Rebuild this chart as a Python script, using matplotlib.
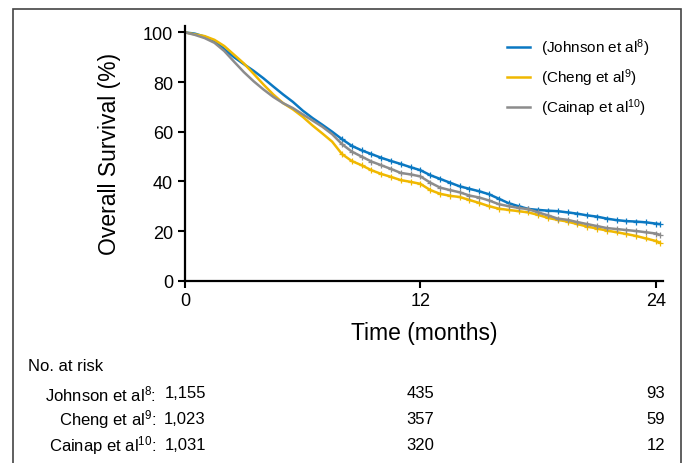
import matplotlib
matplotlib.use("Agg")
import matplotlib.pyplot as plt
import matplotlib.transforms as mtransforms
from matplotlib.patches import Rectangle

plt.rcParams['font.family'] = ['Liberation Sans', 'DejaVu Sans']
plt.rcParams['mathtext.fontset'] = 'custom'
plt.rcParams['mathtext.rm'] = 'Liberation Sans'
plt.rcParams['mathtext.it'] = 'Liberation Sans:italic'

# months, every half month
months = [0, 0.5, 1, 1.5, 2, 2.5, 3, 3.5, 4, 4.5, 5, 5.5, 6, 6.5, 7, 7.5, 8, 8.5,
          9, 9.5, 10, 10.5, 11, 11.5, 12, 12.5, 13, 13.5, 14, 14.5, 15, 15.5,
          16, 16.5, 17, 17.5, 18, 18.5, 19, 19.5, 20, 20.5, 21, 21.5, 22, 22.5,
          23, 23.5, 24, 24.2]

johnson = [100, 99.5, 98.3, 96.5, 93.3, 90, 87.2, 84.5, 81.5, 78.2, 75, 72, 68.5,
           65.5, 62.8, 60, 57, 54.3, 52.5, 51, 49.5, 48.2, 47, 45.7, 44.5, 42.5,
           41, 39.5, 38, 37, 36, 34.8, 33, 31.2, 30, 28.9, 28.5, 28.2, 28, 27.5,
           27, 26.3, 25.8, 25, 24.4, 24, 23.8, 23.5, 23, 22.8]
cheng = [100, 99.2, 98.5, 97, 94.5, 91, 87.5, 83.3, 79, 75, 71.5, 69, 66, 62.5,
         59.3, 56, 51, 48.2, 46.5, 44.5, 43, 41.8, 40.5, 39.8, 39, 36.5, 35, 34.2,
         33.7, 32.5, 31.3, 30, 29, 28.5, 28, 27.5, 26.5, 25.3, 24.5, 23.8, 22.8,
         21.8, 21, 20.2, 19.5, 18.8, 18, 17, 16, 15.3]
cainap = [100, 99, 97.7, 95.8, 92.5, 88.2, 84, 80.3, 77, 74, 71.5, 69.5, 67, 64.5,
          62, 59, 55, 52, 50, 48, 46.5, 45, 43.4, 42.8, 42, 39.5, 37.5, 36.5, 35.6,
          34.3, 33.5, 32.3, 30.8, 30, 29.3, 28.8, 27.5, 26.3, 25, 24.5, 23.6, 22.8,
          22, 21.2, 20.8, 20.4, 20, 19.5, 19, 18.5]

labels = ["(Johnson et al$^{8}$)", "(Cheng et al$^{9}$)", "(Cainap et al$^{10}$)"]
colors = ["#0a78c2", "#f0b800", "#8c8c8c"]

risk_names = ["Johnson et al$^{8}$:", "Cheng et al$^{9}$:", "Cainap et al$^{10}$:"]
risk_times = [0, 12, 24]
risk_counts = [["1,155", "435", "93"],
               ["1,023", "357", "59"],
               ["1,031", "320", "12"]]

fig = plt.figure(figsize=(6.85, 4.64), dpi=100)
ax = fig.add_axes([0.2701, 0.3929, 0.968 - 0.2701, 0.5496])

for y, lab, c in zip([johnson, cheng, cainap], labels, colors):
    ax.plot(months, y, color=c, lw=1.8, label=lab)
    late = [i for i, m in enumerate(months) if m >= 8]
    ax.plot([months[i] for i in late], [y[i] for i in late], ls='none',
            marker='+', ms=4, mew=0.9, color=c)

ax.set_xlim(0, 24.37)
ax.set_ylim(0, 102.7)
ax.set_xticks([0, 12, 24])
ax.set_yticks([0, 20, 40, 60, 80, 100])
ax.tick_params(labelsize=13, width=1.5, length=5, direction='out')
for s in ['top', 'right']:
    ax.spines[s].set_visible(False)
for s in ['left', 'bottom']:
    ax.spines[s].set_linewidth(1.6)

ax.set_xlabel("Time (months)", fontsize=16.5, labelpad=8)
ax.set_ylabel("Overall Survival (%)", fontsize=16.5, labelpad=16)

ax.legend(loc='upper right', bbox_to_anchor=(1.0, 1.01), frameon=False,
          fontsize=11, handlelength=1.55, labelspacing=0.55, handletextpad=0.7)

# number at risk table
trans = mtransforms.blended_transform_factory(ax.transData, fig.transFigure)
fig.text(28 / 685, 1 - 367 / 464, "No. at risk", fontsize=12, va='center', ha='left')
row_y = [1 - 394 / 464, 1 - 420 / 464, 1 - 446 / 464]
for name, counts, yy in zip(risk_names, risk_counts, row_y):
    fig.text(156 / 685, yy, name, fontsize=12, va='center', ha='right')
    for t, n in zip(risk_times, counts):
        ax.text(t, yy, n, transform=trans, fontsize=12, va='center', ha='center')

fig.patches.append(Rectangle((13 / 685, -0.05), (681 - 13) / 685, 1.05 - 10 / 464,
                             transform=fig.transFigure, fill=False,
                             edgecolor='#444444', lw=1.2))

fig.savefig("out.png", dpi=100)
